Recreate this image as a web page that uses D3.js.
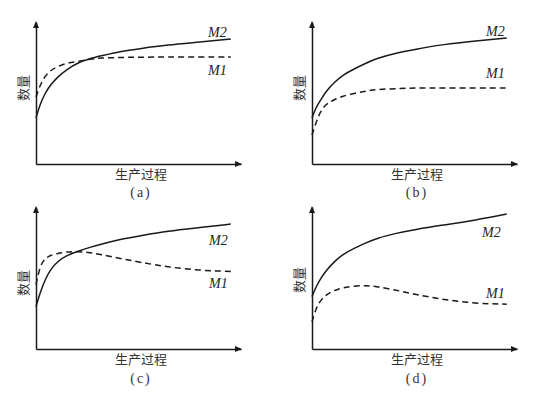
<!DOCTYPE html>
<html>
<head>
<meta charset="utf-8">
<script src="https://cdn.jsdelivr.net/npm/d3@7/dist/d3.min.js"></script>
<style>
  html, body { margin: 0; padding: 0; background: #fff; }
  svg { display: block; }
</style>
</head>
<body>
<svg id="chart" width="557" height="393"></svg>
<script>
// ---- data ----
const process = [0, 2, 4.5, 7, 10.5, 15, 20.5, 26.5, 31.5, 41, 51, 64, 80, 95];
const panelNames = ["(a)", "(b)", "(c)", "(d)"];
const seriesNames = ["M1", "M2"];
const xTitle = "生产过程";
const yTitle = "数量";

const m2_a = [32.9, 42.9, 50.7, 56.4, 62.1, 67.5, 72.5, 75.4, 77.1, 80.4, 82.5, 85.0, 87.1, 89.3];
const m1_a = [47.9, 56.4, 62.9, 66.8, 69.6, 72.1, 73.2, 75.0, 75.7, 76.1, 76.3, 76.4, 76.4, 76.4];

const m2_b = [32.9, 40.7, 46.4, 52.1, 57.9, 63.6, 67.9, 72.1, 75.4, 79.3, 82.1, 85.4, 87.9, 90.0];
const m1_b = [20.7, 30.0, 38.6, 42.9, 45.7, 48.6, 50.4, 52.1, 53.2, 53.9, 54.3, 54.3, 54.3, 54.3];

const m2_c = [30.2, 40.3, 49.6, 56.8, 62.6, 66.9, 69.8, 72.7, 74.8, 78.4, 80.9, 84.2, 86.7, 89.2];
const m1_c = [46.0, 59.7, 64.7, 66.9, 68.3, 69.4, 69.8, 68.7, 67.6, 64.7, 61.9, 58.6, 56.1, 55.4];

const m2_d = [37.4, 44.6, 51.1, 56.1, 61.9, 67.6, 71.9, 75.9, 79.1, 82.7, 85.6, 88.5, 92.1, 96.4];
const m1_d = [19.4, 29.5, 35.3, 38.8, 41.7, 43.9, 45.0, 45.3, 44.6, 42.1, 38.8, 35.3, 32.5, 32.0];

// ---- layout ----
const panels = [
  { name: panelNames[0], m1: m1_a, m2: m2_a, ox: 36,  oy: 164, ylabY: 88,  xlabY: 179, capY: 197, m2L: [208, 37],  m1L: [208, 75] },
  { name: panelNames[1], m1: m1_b, m2: m2_b, ox: 312, oy: 164, ylabY: 88,  xlabY: 179, capY: 197, m2L: [486, 36],  m1L: [486, 78] },
  { name: panelNames[2], m1: m1_c, m2: m2_c, ox: 36,  oy: 349, ylabY: 283, xlabY: 364, capY: 383, m2L: [209, 245], m1L: [209, 288] },
  { name: panelNames[3], m1: m1_d, m2: m2_d, ox: 312, oy: 349, ylabY: 280, xlabY: 364, capY: 383, m2L: [482, 237], m1L: [486, 298] }
];

const svg = d3.select("#chart");
const ink = "#1a1a1a";

panels.forEach(p => {
  const x = d3.scaleLinear().domain([0, 100]).range([p.ox, p.ox + 205]);
  const y = d3.scaleLinear().domain([0, 100]).range([p.oy, p.oy - 140]);
  const g = svg.append("g");

  // axes (no ticks)
  const xAxis = g.append("g").attr("transform", `translate(0,${p.oy})`)
    .call(d3.axisBottom(x).ticks(0).tickSizeOuter(0));
  const yAxis = g.append("g").attr("transform", `translate(${p.ox},0)`)
    .call(d3.axisLeft(d3.scaleLinear().domain([0, 100]).range([p.oy, p.oy - 142])).ticks(0).tickSizeOuter(0));
  [xAxis, yAxis].forEach(a => a.select(".domain").attr("stroke", ink).attr("stroke-width", 1.5));

  // arrow heads
  const xt = x(100) + 1, yt = p.oy - 143;
  g.append("path").attr("d", `M${xt},${p.oy} L${xt - 7},${p.oy - 3} L${xt - 7},${p.oy + 3} Z`).attr("fill", ink);
  g.append("path").attr("d", `M${p.ox},${yt} L${p.ox - 3},${yt + 7} L${p.ox + 3},${yt + 7} Z`).attr("fill", ink);

  const line = d3.line().x((d, i) => x(process[i])).y(d => y(d)).curve(d3.curveBasis);

  g.append("path").datum(p.m2).attr("d", line)
    .attr("fill", "none").attr("stroke", ink).attr("stroke-width", 1.5);
  g.append("path").datum(p.m1).attr("d", line)
    .attr("fill", "none").attr("stroke", ink).attr("stroke-width", 1.5)
    .attr("stroke-dasharray", "6,4");

  // series labels
  [[seriesNames[1], p.m2L], [seriesNames[0], p.m1L]].forEach(([t, pos]) => {
    g.append("text").attr("x", pos[0]).attr("y", pos[1])
      .attr("font-family", "Liberation Serif, serif").attr("font-style", "italic")
      .attr("font-size", 14).attr("fill", "#222").text(t);
  });

  // axis titles
  g.append("text").attr("x", p.ox + 105).attr("y", p.xlabY).attr("text-anchor", "middle")
    .attr("font-family", "Noto Sans CJK SC").attr("font-size", 13).attr("fill", "#333").text(xTitle);
  g.append("text").attr("transform", `translate(${p.ox - 8},${p.ylabY}) rotate(-90)`)
    .attr("text-anchor", "middle")
    .attr("font-family", "Noto Sans CJK SC").attr("font-size", 13).attr("fill", "#333").text(yTitle);

  // caption
  g.append("text").attr("x", p.ox + 105).attr("y", p.capY).attr("text-anchor", "middle")
    .attr("font-family", "Liberation Serif, serif").attr("font-size", 14)
    .attr("letter-spacing", 2).attr("fill", "#333").text(p.name);
});
</script>
</body>
</html>
